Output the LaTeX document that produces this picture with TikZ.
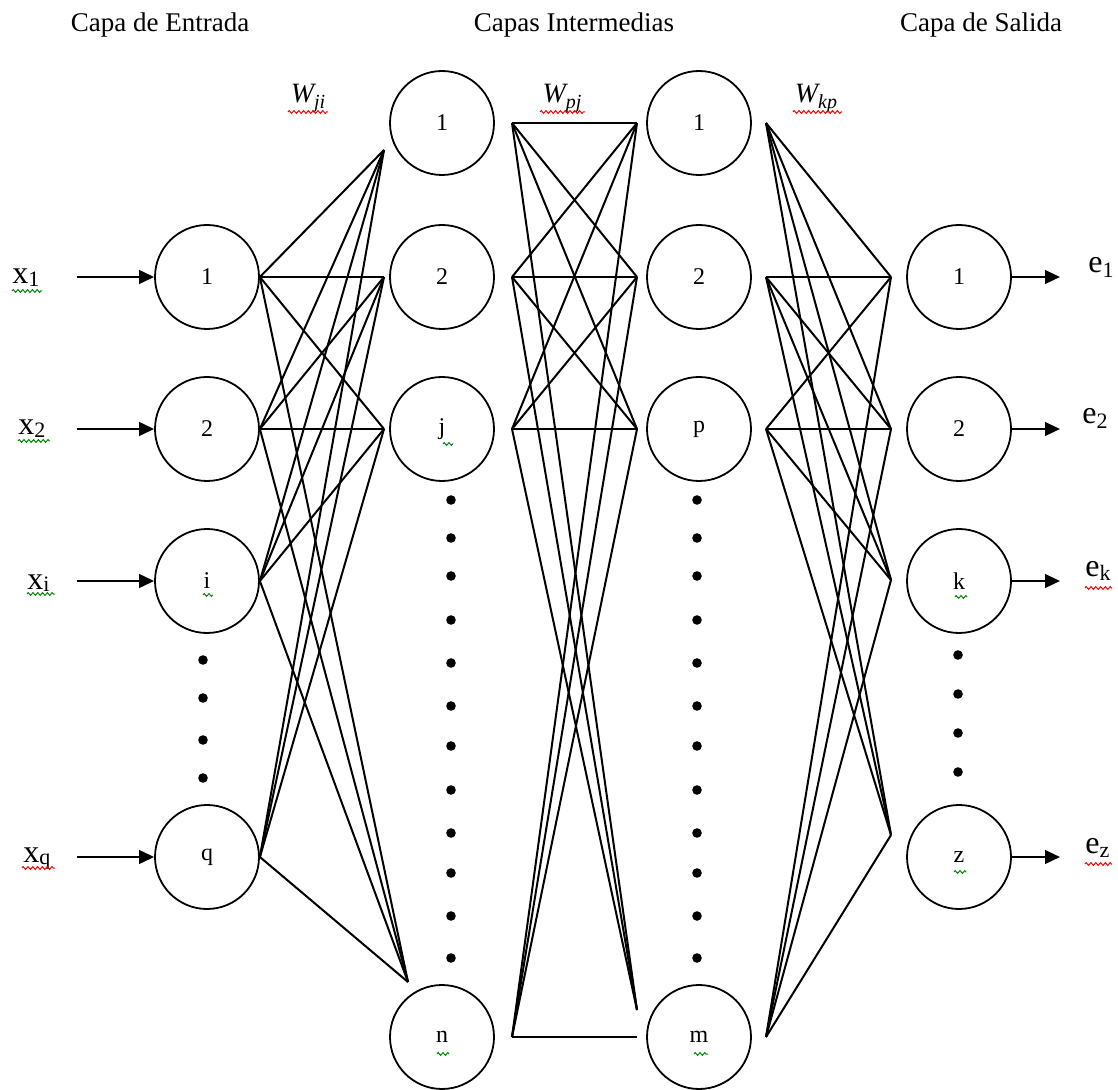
\documentclass[tikz,border=0pt]{standalone}
\usepackage{fontspec}
\setmainfont{Liberation Serif}
\usetikzlibrary{arrows.meta,decorations.pathmorphing}
% lowered subscript in a fixed size
\newcommand\lowsub[3][10]{\raisebox{-#2ex}{\fontsize{#1}{#1}\selectfont #3}}

\begin{document}
\begin{tikzpicture}[x=0.5pt,y=-0.5pt,
  neuron/.style={circle,draw,line width=0.9pt,minimum size=52pt,inner sep=0pt,
                 font=\fontsize{12}{14}\selectfont},
  dotnode/.style={circle,fill,minimum size=4.8pt,inner sep=0pt},
  wire/.style={line width=1pt},
  io/.style={line width=1.2pt,-{Triangle[length=7.5pt,width=6.8pt]}},
  title/.style={anchor=base,font=\fontsize{13.5}{15}\selectfont},
  sig/.style={anchor=base west,font=\fontsize{16}{18}\selectfont,inner sep=0pt},
  wlab/.style={anchor=base,font=\fontsize{14}{16}\selectfont\itshape,inner sep=0pt},
  squig/.style={decorate,decoration={zigzag,amplitude=0.7pt,segment length=2.4pt},line width=0.5pt},
  okgreen/.style={squig,color=green!55!black},
  badred/.style={squig,color=red},
]
\useasboundingbox (0,0) rectangle (1118,1090);

% layer titles
\node[title] (tin)  at (160,32) {Capa de Entrada};
\node[title] (tmid) at (574,32) {Capas Intermedias};
\node[title] (tout) at (981,32) {Capa de Salida};

% input layer
\node[neuron] (i1) at (207,277) {1};
\node[neuron] (i2) at (207,429) {2};
\node[neuron] (ii) at (207,581) {i};
\node[neuron] (iq) at (207,857) {q};

% first hidden layer
\node[neuron] (h1) at (442,123) {1};
\node[neuron] (h2) at (442,277) {2};
\node[neuron] (hj) at (442,429) {j};
\node[neuron] (hn) at (442,1037) {n};

% second hidden layer
\node[neuron] (p1) at (699,123) {1};
\node[neuron] (p2) at (699,277) {2};
\node[neuron] (pp) at (699,429) {p};
\node[neuron] (pm) at (699,1037) {m};

% output layer
\node[neuron] (o1) at (959,277) {1};
\node[neuron] (o2) at (959,429) {2};
\node[neuron] (ok) at (959,581) {k};
\node[neuron] (oz) at (959,857) {z};

% ellipsis dots
\foreach \y [count=\n] in {660,698,740,778}
  \node[dotnode] (din\n) at (203,\y) {};
\foreach \y [count=\n] in {500,538,576,620,663,706,746,790,833,873,916,958} {
  \node[dotnode] (dha\n) at (451,\y) {};
  \node[dotnode] (dhb\n) at (697,\y) {};
}
\foreach \y [count=\n] in {655,694,733,772}
  \node[dotnode] (dout\n) at (958,\y) {};

% weight-block end points
\coordinate (A1) at (384,150);
\coordinate (A2) at (384,277);
\coordinate (A3) at (384,429);
\coordinate (A4) at (408,982);
\coordinate (B1) at (512,123);
\coordinate (B2) at (512,277);
\coordinate (B3) at (512,429);
\coordinate (B4) at (512,1037);
\coordinate (C1) at (637,123);
\coordinate (C2) at (637,277);
\coordinate (C3) at (637,429);
\coordinate (C4) at (637,1010);
\coordinate (C5) at (637,1037);
\coordinate (D1) at (766,123);
\coordinate (D2) at (766,277);
\coordinate (D3) at (766,429);
\coordinate (D4) at (766,1037);
\coordinate (E1) at (891,277);
\coordinate (E2) at (891,429);
\coordinate (E3) at (891,580);
\coordinate (E4) at (891,835);

% input -> first hidden weights
\foreach \s in {i1,i2,ii,iq}
  \foreach \t in {A1,A2,A3,A4}
    \draw[wire] (\s.east) -- (\t);

% first hidden -> second hidden weights
\foreach \s in {B1,B2,B3}
  \foreach \t in {C1,C2,C3,C4}
    \draw[wire] (\s) -- (\t);
\foreach \t in {C1,C2,C3,C5}
  \draw[wire] (B4) -- (\t);

% second hidden -> output weights
\foreach \s in {D1,D2,D3,D4}
  \foreach \t in {E1,E2,E3,E4}
    \draw[wire] (\s) -- (\t);

% weight labels
\node[wlab] (wji) at (308,103) {W\lowsub[10]{0.4}{ji}};
\node[wlab] (wpj) at (562,103) {W\lowsub[10]{0.4}{pj}};
\node[wlab] (wkp) at (816,103) {W\lowsub[10]{0.4}{kp}};

% input signals
\coordinate (s1) at (77,277);
\coordinate (s2) at (77,429);
\coordinate (s3) at (77,581);
\coordinate (s4) at (77,857);
\draw[io] (s1) -- (i1.west);
\draw[io] (s2) -- (i2.west);
\draw[io] (s3) -- (ii.west);
\draw[io] (s4) -- (iq.west);
\node[sig] (x1) at (12,284) {x\lowsub[11]{0.2}{1}};
\node[sig] (x2) at (18,435) {x\lowsub[11]{0.2}{2}};
\node[sig] (xi) at (27,589) {x\lowsub[11]{0.2}{i}};
\node[sig] (xq) at (23,862) {x\lowsub[11]{0.2}{q}};

% output signals
\coordinate (r1) at (1060,277);
\coordinate (r2) at (1060,429);
\coordinate (r3) at (1060,581);
\coordinate (r4) at (1060,857);
\draw[io] (o1.east) -- (r1);
\draw[io] (o2.east) -- (r2);
\draw[io] (ok.east) -- (r3);
\draw[io] (oz.east) -- (r4);
\node[sig] (e1) at (1088,273) {e\lowsub[11]{0.3}{1}};
\node[sig] (e2) at (1082,424) {e\lowsub[11]{0.3}{2}};
\node[sig] (ek) at (1085,576) {e\lowsub[11]{0.3}{k}};
\node[sig] (ez) at (1085,853) {e\lowsub[11]{0.3}{z}};

% proofing underlines
\draw[okgreen] (12,291) -- (42,291);
\draw[okgreen] (18,441) -- (50,441);
\draw[okgreen] (27,594) -- (55,594);
\draw[badred]  (22,868) -- (55,868);
\draw[badred]  (288,112) -- (328,112);
\draw[badred]  (540,112) -- (585,112);
\draw[badred]  (793,112) -- (842,112);
\draw[badred]  (1085,588) -- (1112,588);
\draw[badred]  (1085,864) -- (1112,864);
\draw[okgreen] (443,444) -- (453,444);
\draw[okgreen] (203,595) -- (213,595);
\draw[okgreen] (955,597) -- (967,597);
\draw[okgreen] (954,872) -- (966,872);
\draw[okgreen] (437,1054) -- (449,1054);
\draw[okgreen] (694,1054) -- (708,1054);
\end{tikzpicture}
\end{document}
